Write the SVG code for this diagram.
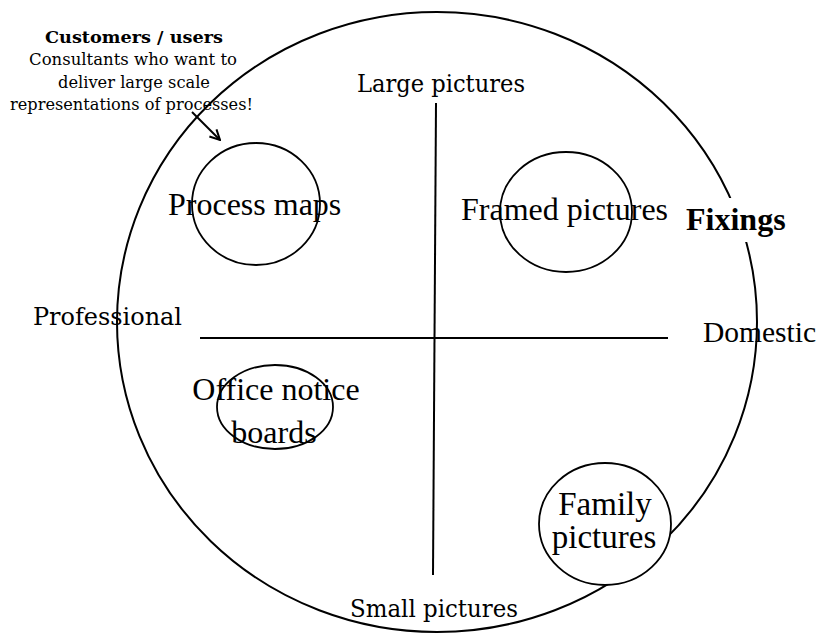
<svg xmlns="http://www.w3.org/2000/svg" width="819" height="636" viewBox="0 0 819 636">
<style>
  .ln { fill: none; stroke: #000; stroke-width: 2; }
  .nd { fill: #fff; stroke: #000; stroke-width: 1.8; }
  .tm { font-family: "Liberation Serif", "Times New Roman", serif; fill: #000; }
  .gg { font-family: "DejaVu Serif", Georgia, serif; fill: #000; }
</style>
<defs>
  <marker id="open" viewBox="0 0 12 12" refX="11" refY="6" markerWidth="12" markerHeight="12" markerUnits="userSpaceOnUse" orient="auto">
    <polyline points="1,1 11,6 1,11" fill="none" stroke="#000" stroke-width="2"/>
  </marker>
</defs>
<rect width="819" height="636" fill="#fff"/>

<g id="frame">
  <ellipse class="ln" cx="437" cy="322" rx="320" ry="310"/>
  <line class="ln" x1="436" y1="103" x2="433" y2="575"/>
  <line class="ln" x1="200" y1="338" x2="668" y2="338"/>
</g>

<g id="axis-labels">
  <text class="gg" x="357" y="92" font-size="24" textLength="168" lengthAdjust="spacingAndGlyphs">Large pictures</text>
  <text class="gg" x="350" y="617" font-size="24" textLength="168" lengthAdjust="spacingAndGlyphs">Small pictures</text>
  <text class="gg" x="33" y="325" font-size="24" textLength="149" lengthAdjust="spacingAndGlyphs">Professional</text>
  <text class="tm" x="703" y="342" font-size="29.5">Domestic</text>
</g>

<g id="fixings">
  <rect x="722" y="198" width="36" height="44" fill="#fff"/>
  <text class="tm" x="686" y="230" font-size="32" font-weight="bold">Fixings</text>
</g>

<g id="annotation">
  <text class="gg" x="45" y="43" font-size="16.5" font-weight="bold" textLength="178" lengthAdjust="spacingAndGlyphs">Customers / users</text>
  <text class="gg" x="29" y="65" font-size="16.5" textLength="208" lengthAdjust="spacingAndGlyphs">Consultants who want to</text>
  <text class="gg" x="58" y="88" font-size="16.5" textLength="152" lengthAdjust="spacingAndGlyphs">deliver large scale</text>
  <text class="gg" x="10" y="110" font-size="16.5" textLength="243" lengthAdjust="spacingAndGlyphs">representations of processes!</text>
</g>

<g id="process-maps">
  <ellipse class="nd" cx="256" cy="204" rx="64" ry="61"/>
  <text class="tm" x="168" y="215" font-size="32">Process maps</text>
</g>

<g id="framed-pictures">
  <ellipse class="nd" cx="566" cy="212" rx="66" ry="60"/>
  <text class="tm" x="461" y="220" font-size="32">Framed pictures</text>
</g>

<g id="office-notice-boards">
  <ellipse class="nd" cx="275" cy="407" rx="58" ry="42"/>
  <text class="tm" x="276" y="400" font-size="32" text-anchor="middle">Office notice</text>
  <text class="tm" x="274" y="443" font-size="32" text-anchor="middle">boards</text>
</g>

<g id="family-pictures">
  <ellipse class="nd" cx="605" cy="524" rx="66" ry="61"/>
  <text class="tm" x="605" y="515" font-size="33" text-anchor="middle">Family</text>
  <text class="tm" x="604" y="548" font-size="33" text-anchor="middle">pictures</text>
</g>

<g id="connectors">
  <line class="ln" x1="192" y1="112" x2="220" y2="140" marker-end="url(#open)"/>
</g>
</svg>
